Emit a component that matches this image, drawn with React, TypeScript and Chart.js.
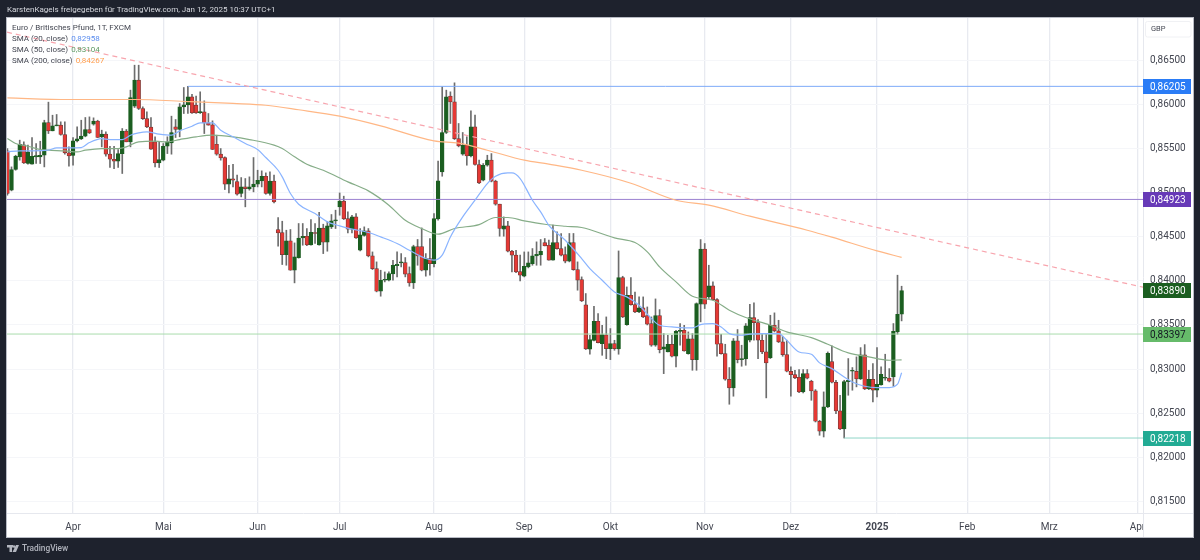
import { useEffect, useRef } from "react";
import { Chart, registerables } from "chart.js";

Chart.register(...registerables);

const candleOpen = [
  0.85461, 0.85015, 0.85249, 0.85393, 0.85529, 0.85317, 0.85309, 0.85393, 0.85393, 0.85411,
  0.85782, 0.85687, 0.85744, 0.85752, 0.85646, 0.85438, 0.85408, 0.85574, 0.85597, 0.85627,
  0.85703, 0.85763, 0.85797, 0.8562, 0.8565, 0.85423, 0.85366, 0.85344, 0.8543, 0.85684,
  0.85563, 0.85967, 0.86262, 0.85941, 0.85827, 0.85729, 0.85563, 0.85325, 0.85355, 0.85513,
  0.85551, 0.85733, 0.85703, 0.8596, 0.85982, 0.86073, 0.85979, 0.85895, 0.85903, 0.85778,
  0.85755, 0.85536, 0.85423, 0.85385, 0.85083, 0.85143, 0.85113, 0.84977, 0.85052, 0.85029,
  0.85052, 0.85083, 0.8512, 0.85173, 0.84977, 0.85117, 0.84569, 0.84535, 0.84285, 0.8444,
  0.84107, 0.84251, 0.84475, 0.84493, 0.84395, 0.84535, 0.84395, 0.84584, 0.84425, 0.84599,
  0.84667, 0.84826, 0.8489, 0.84693, 0.84573, 0.84712, 0.84334, 0.84501, 0.84554, 0.8427,
  0.84126, 0.83869, 0.83994, 0.83994, 0.84066, 0.8416, 0.84191, 0.84194, 0.84069, 0.83964,
  0.84376, 0.84376, 0.84107, 0.8424, 0.84183, 0.8469, 0.85222, 0.85669, 0.86081, 0.86016,
  0.856, 0.85423, 0.85525, 0.85404, 0.85733, 0.85306, 0.85128, 0.85298, 0.85355, 0.85117,
  0.84856, 0.84573, 0.8461, 0.84323, 0.84278, 0.84092, 0.8404, 0.84145, 0.84183, 0.8427,
  0.84281, 0.84421, 0.84391, 0.84221, 0.84421, 0.84353, 0.84285, 0.8421, 0.84421, 0.84115,
  0.84001, 0.83714, 0.83211, 0.83313, 0.83529, 0.83276, 0.83374, 0.83219, 0.83276, 0.83215,
  0.84024, 0.83491, 0.83824, 0.83718, 0.83635, 0.8368, 0.83593, 0.83502, 0.83257, 0.83593,
  0.83211, 0.83181, 0.83268, 0.83132, 0.83415, 0.83427, 0.83162, 0.83329, 0.83094, 0.83722,
  0.84346, 0.83805, 0.8393, 0.83775, 0.83276, 0.83162, 0.82871, 0.82773, 0.83306, 0.83094,
  0.83102, 0.83314, 0.83571, 0.83514, 0.83314, 0.83181, 0.83117, 0.83484, 0.83419, 0.83295,
  0.83151, 0.82962, 0.82924, 0.82894, 0.82728, 0.82936, 0.82849, 0.82739, 0.82395, 0.82282,
  0.82558, 0.83072, 0.82837, 0.82512, 0.82308, 0.82845, 0.82962, 0.82962, 0.82875, 0.83147,
  0.82762, 0.82871, 0.82747, 0.82807, 0.82883, 0.82883, 0.82898, 0.83408, 0.83608,
];

const candleHigh = [
  0.85487, 0.85279, 0.85411, 0.85582, 0.85563, 0.85525, 0.85612, 0.85544, 0.8557, 0.85808,
  0.86013, 0.85865, 0.85873, 0.8579, 0.8579, 0.85506, 0.85612, 0.85733, 0.85808, 0.85839,
  0.85846, 0.85835, 0.85808, 0.85695, 0.85676, 0.85513, 0.85513, 0.85476, 0.85714, 0.85703,
  0.86149, 0.86432, 0.86432, 0.8596, 0.85903, 0.85839, 0.8562, 0.85563, 0.85544, 0.8562,
  0.85854, 0.85816, 0.85997, 0.86179, 0.86192, 0.86103, 0.86081, 0.8613, 0.86028, 0.85884,
  0.85801, 0.85638, 0.85487, 0.85393, 0.85298, 0.85309, 0.85185, 0.85158, 0.85147, 0.85166,
  0.85385, 0.85241, 0.85234, 0.85211, 0.85222, 0.85185, 0.84705, 0.84663, 0.84561, 0.84569,
  0.84417, 0.84637, 0.84637, 0.8458, 0.84682, 0.84637, 0.84765, 0.84629, 0.84656, 0.84739,
  0.84788, 0.84984, 0.84947, 0.84769, 0.84731, 0.8475, 0.8458, 0.84599, 0.8458, 0.84315,
  0.84202, 0.84107, 0.84088, 0.84088, 0.84221, 0.84315, 0.84296, 0.84251, 0.84145, 0.84391,
  0.84456, 0.84587, 0.84296, 0.84467, 0.8475, 0.85344, 0.86186, 0.86149, 0.8613, 0.86232,
  0.85771, 0.85669, 0.8562, 0.85914, 0.85865, 0.85355, 0.85317, 0.85411, 0.8543, 0.85128,
  0.84856, 0.84712, 0.84663, 0.84334, 0.84334, 0.84278, 0.84315, 0.84315, 0.84353, 0.84429,
  0.84456, 0.84467, 0.84448, 0.84618, 0.84542, 0.84524, 0.84372, 0.84524, 0.84524, 0.84202,
  0.84032, 0.83843, 0.8337, 0.83699, 0.83616, 0.83483, 0.83578, 0.83446, 0.83313, 0.84326,
  0.84039, 0.83918, 0.84024, 0.83861, 0.83805, 0.83805, 0.83691, 0.83578, 0.83782, 0.83661,
  0.83389, 0.8337, 0.8337, 0.83427, 0.83502, 0.83483, 0.83408, 0.83389, 0.83737, 0.84455,
  0.8441, 0.84164, 0.83975, 0.83786, 0.83382, 0.83268, 0.83004, 0.83333, 0.83435, 0.83257,
  0.83503, 0.83722, 0.83737, 0.83548, 0.83382, 0.83389, 0.83597, 0.83624, 0.8354, 0.83359,
  0.83314, 0.83011, 0.82973, 0.82981, 0.82981, 0.82981, 0.8286, 0.82754, 0.82406, 0.82728,
  0.83181, 0.83249, 0.8286, 0.8269, 0.8286, 0.83106, 0.83004, 0.83125, 0.8323, 0.83264,
  0.82973, 0.83049, 0.8323, 0.83011, 0.83155, 0.82992, 0.83503, 0.84051, 0.83926,
];

const candleLow = [
  0.84958, 0.85007, 0.85241, 0.85355, 0.85317, 0.85309, 0.85309, 0.85317, 0.85317, 0.85279,
  0.85657, 0.85687, 0.85744, 0.85638, 0.85423, 0.85287, 0.85298, 0.85563, 0.85589, 0.8562,
  0.85657, 0.85752, 0.85612, 0.85506, 0.854, 0.85272, 0.8526, 0.85272, 0.85204, 0.85563,
  0.85506, 0.85952, 0.85929, 0.85816, 0.85725, 0.85476, 0.85279, 0.85272, 0.85347, 0.8543,
  0.85423, 0.85612, 0.8562, 0.85884, 0.85884, 0.85884, 0.85884, 0.85884, 0.85657, 0.85752,
  0.85476, 0.85411, 0.85355, 0.85022, 0.84984, 0.85052, 0.84958, 0.84939, 0.84826, 0.85015,
  0.84996, 0.85052, 0.85052, 0.84969, 0.84958, 0.84871, 0.8438, 0.84172, 0.84164, 0.84107,
  0.83964, 0.84244, 0.84391, 0.84387, 0.84391, 0.8441, 0.84391, 0.84296, 0.84323, 0.8458,
  0.8458, 0.84731, 0.84682, 0.84531, 0.84531, 0.84467, 0.84327, 0.84493, 0.84259, 0.84115,
  0.83862, 0.83813, 0.83975, 0.83986, 0.83994, 0.84032, 0.84145, 0.84032, 0.83926, 0.839,
  0.84164, 0.841, 0.8404, 0.84051, 0.84145, 0.84674, 0.85173, 0.85657, 0.85771, 0.85589,
  0.85506, 0.85411, 0.85298, 0.85393, 0.85298, 0.8509, 0.8512, 0.85287, 0.85109, 0.84845,
  0.84493, 0.84493, 0.84315, 0.84088, 0.84081, 0.83986, 0.84032, 0.84134, 0.84164, 0.84164,
  0.84164, 0.84383, 0.84221, 0.84221, 0.84346, 0.8427, 0.84191, 0.84202, 0.84107, 0.83881,
  0.83752, 0.83208, 0.83155, 0.83306, 0.83283, 0.83143, 0.83105, 0.83094, 0.832, 0.83155,
  0.8357, 0.83483, 0.8371, 0.83627, 0.83627, 0.8357, 0.83487, 0.83245, 0.83245, 0.8317,
  0.82935, 0.83181, 0.83124, 0.83011, 0.83257, 0.83189, 0.83155, 0.82973, 0.82973, 0.83522,
  0.83673, 0.83786, 0.83767, 0.83132, 0.83155, 0.8286, 0.82588, 0.82679, 0.83057, 0.83019,
  0.8303, 0.83295, 0.83314, 0.83106, 0.83162, 0.8266, 0.83106, 0.83408, 0.83287, 0.83132,
  0.82955, 0.82679, 0.82879, 0.8272, 0.82716, 0.82875, 0.82633, 0.82387, 0.82236, 0.82217,
  0.8255, 0.8283, 0.82482, 0.82301, 0.82205, 0.8269, 0.82747, 0.82785, 0.82868, 0.82754,
  0.82754, 0.82614, 0.82671, 0.82803, 0.8286, 0.82841, 0.82792, 0.83382, 0.83533,
];

const candleClose = [
  0.84977, 0.85249, 0.854, 0.85536, 0.85325, 0.85449, 0.854, 0.85408, 0.85411, 0.85782,
  0.85687, 0.85744, 0.85752, 0.85646, 0.85438, 0.85404, 0.85574, 0.85597, 0.85627, 0.85703,
  0.85665, 0.85797, 0.85612, 0.8565, 0.85423, 0.85366, 0.85344, 0.8543, 0.85684, 0.85563,
  0.86065, 0.86262, 0.85941, 0.85827, 0.85733, 0.8548, 0.85325, 0.85362, 0.85513, 0.85563,
  0.85669, 0.85703, 0.8596, 0.85982, 0.86073, 0.85892, 0.85892, 0.85907, 0.85778, 0.85752,
  0.85476, 0.85423, 0.85381, 0.85083, 0.85143, 0.85128, 0.84969, 0.85052, 0.85033, 0.85052,
  0.85083, 0.85128, 0.85173, 0.84977, 0.85117, 0.84882, 0.84531, 0.84285, 0.8444, 0.84107,
  0.84259, 0.84471, 0.84493, 0.84395, 0.84538, 0.84524, 0.84584, 0.84425, 0.8461, 0.84667,
  0.84674, 0.8489, 0.8469, 0.84573, 0.84712, 0.84475, 0.84508, 0.84554, 0.8427, 0.84126,
  0.83869, 0.83994, 0.84002, 0.84069, 0.84164, 0.84175, 0.84198, 0.84062, 0.83964, 0.84376,
  0.8427, 0.84107, 0.8424, 0.84183, 0.84693, 0.8512, 0.85669, 0.86073, 0.86016, 0.856,
  0.85517, 0.85525, 0.85404, 0.85733, 0.85306, 0.85098, 0.85298, 0.85355, 0.85117, 0.84856,
  0.8458, 0.8461, 0.84323, 0.84278, 0.84088, 0.84051, 0.84153, 0.84191, 0.8427, 0.84289,
  0.84323, 0.84383, 0.84221, 0.84421, 0.84353, 0.84278, 0.8421, 0.84421, 0.84115, 0.83994,
  0.83759, 0.83215, 0.83321, 0.83529, 0.83287, 0.83378, 0.83219, 0.83276, 0.83219, 0.84024,
  0.83578, 0.83824, 0.83718, 0.83635, 0.8368, 0.83578, 0.83495, 0.83257, 0.83593, 0.83208,
  0.83238, 0.83268, 0.83132, 0.83415, 0.83427, 0.83192, 0.83329, 0.83094, 0.83729, 0.84346,
  0.83722, 0.8393, 0.83775, 0.83268, 0.83162, 0.82871, 0.82773, 0.83306, 0.83094, 0.83106,
  0.83476, 0.83571, 0.83514, 0.83314, 0.83181, 0.83057, 0.83484, 0.83419, 0.83295, 0.83151,
  0.82962, 0.82924, 0.82886, 0.82728, 0.82936, 0.82883, 0.82739, 0.82395, 0.82282, 0.82558,
  0.83166, 0.82837, 0.82512, 0.82308, 0.82845, 0.8286, 0.8297, 0.82875, 0.83147, 0.82762,
  0.82871, 0.82747, 0.82815, 0.82928, 0.8289, 0.82849, 0.83416, 0.83608, 0.83877,
];

const sma20Index = [
  1, 4, 7, 11, 13, 16, 19, 21, 24, 26, 29, 31, 33, 35, 38, 41, 43, 46, 48, 51, 53, 56, 59, 62, 64,
  67, 68, 70, 72, 76, 79, 82, 85, 89, 92, 96, 99, 103, 105, 107, 109, 112, 115, 118, 120, 123, 124,
  126, 129, 131, 133, 137, 141, 143, 146, 149, 152, 155, 158, 160, 163, 168, 170, 173, 175, 177,
  180, 182, 185, 189, 191, 194, 197, 199, 202, 205, 207, 210, 213, 216, 218, 219,
];
const sma20Values = [
  0.85449, 0.85461, 0.85461, 0.85468, 0.85495, 0.85495, 0.85498, 0.85555, 0.856, 0.85589, 0.85589,
  0.85638, 0.85665, 0.85676, 0.8565, 0.85638, 0.85687, 0.8574, 0.85778, 0.85778, 0.85695, 0.8562,
  0.85544, 0.85476, 0.85385, 0.85241, 0.85166, 0.84977, 0.84856, 0.8475, 0.84656, 0.8461, 0.84573,
  0.84535, 0.84485, 0.8441, 0.84334, 0.8424, 0.84221, 0.84278, 0.84485, 0.84712, 0.84901, 0.8509,
  0.85173, 0.85211, 0.85211, 0.85147, 0.84901, 0.84769, 0.84617, 0.84447, 0.84239, 0.84126, 0.83994,
  0.83861, 0.83805, 0.8371, 0.83559, 0.83483, 0.83465, 0.83453, 0.83491, 0.83503, 0.83465, 0.83389,
  0.8337, 0.83382, 0.83389, 0.83389, 0.83314, 0.83181, 0.83155, 0.83057, 0.82992, 0.82898, 0.82841,
  0.82792, 0.82777, 0.82777, 0.82815, 0.82945,
];

const sma50Index = [
  1, 3, 6, 9, 11, 15, 18, 20, 24, 28, 30, 33, 37, 40, 43, 47, 51, 56, 60, 66, 68, 71, 74, 78, 84,
  89, 94, 98, 102, 106, 110, 116, 120, 123, 127, 132, 137, 141, 149, 154, 157, 160, 164, 168, 173,
  177, 181, 187, 191, 197, 201, 206, 211, 216, 219,
];
const sma50Values = [
  0.856, 0.85544, 0.85513, 0.85476, 0.85468, 0.85461, 0.85449, 0.85468, 0.85487, 0.85487, 0.85506,
  0.85563, 0.8557, 0.85563, 0.85589, 0.8562, 0.85638, 0.8562, 0.85589, 0.85525, 0.85487, 0.85393,
  0.85309, 0.85241, 0.85109, 0.85007, 0.84845, 0.84674, 0.8458, 0.84516, 0.8458, 0.84625, 0.84705,
  0.84705, 0.84667, 0.84629, 0.84606, 0.84592, 0.84474, 0.84421, 0.84315, 0.84145, 0.83975, 0.83813,
  0.83767, 0.83654, 0.83571, 0.83484, 0.83408, 0.83344, 0.83268, 0.8317, 0.83125, 0.83087, 0.83091,
];

const sma200Index = [
  1, 16, 32, 45, 56, 64, 72, 82, 92, 105, 111, 118, 127, 133, 141, 153, 164, 172, 182, 196, 202, 213,
  219,
];
const sma200Values = [
  0.86061, 0.86043, 0.86043, 0.8602, 0.85998, 0.85978, 0.85927, 0.85854, 0.85744, 0.85574, 0.85548,
  0.85468, 0.85355, 0.8531, 0.85241, 0.85094, 0.84901, 0.84845, 0.8472, 0.84561, 0.84482, 0.84326,
  0.84254,
];

const trendIndex = [0.9, 277.85];
const trendValues = [0.86806, 0.83915];

// the readings above were taken against a grid placed slightly too low
const READ_BIAS = 0.00013;

const levelBlue = 0.86205;
const levelPurple = 0.84923;
const levelGreen = 0.83397;
const levelTeal = 0.82218;
const lastClose = 0.8389;

const monthIndex = [17, 39, 62, 82, 105, 127, 148, 171, 192, 213, 235, 255, 276.5];
const monthLabels = ["Apr", "Mai", "Jun", "Jul", "Aug", "Sep", "Okt", "Nov", "Dez", "2025", "Feb", "Mrz", "Apr"];
const priceTicks = [0.815, 0.82, 0.825, 0.83, 0.835, 0.84, 0.845, 0.85, 0.855, 0.86, 0.865];

const priceLabels = [
  { value: levelBlue, bg: "#2a7cf6", fg: "#ffffff" },
  { value: levelPurple, bg: "#673ab7", fg: "#ffffff" },
  { value: lastClose, bg: "#1b5e20", fg: "#ffffff" },
  { value: levelGreen, bg: "#66bb6a", fg: "#131722" },
  { value: levelTeal, bg: "#22ab94", fg: "#ffffff" },
];

const legendRows = [
  { text: "SMA (20, close)", value: "0,82958", color: "#5b8def" },
  { text: "SMA (50, close)", value: "0,83104", color: "#5f9a63" },
  { text: "SMA (200, close)", value: "0,84267", color: "#ff9d4d" },
];

const UP = "#1b5e20";
const DOWN = "#e53935";
const FONT = "Roboto, sans-serif";
const fmt = (v: number) => v.toFixed(5).replace(".", ",");
const read = (v: number) => v + READ_BIAS;

const pointsOf = (xs: number[], ys: number[]) => xs.map((x, i) => ({ x, y: ys[i] }));
const lineSet = (data: { x: number; y: number }[], color: string, extra = {}) => ({
  type: "line" as const,
  data,
  borderColor: color,
  borderWidth: 1.2,
  pointRadius: 0,
  cubicInterpolationMode: "monotone",
  order: 1,
  ...extra,
});
const levelSet = (start: number, value: number, color: string) =>
  lineSet(pointsOf([start, trendIndex[1]], [value, value]), color, { cubicInterpolationMode: "default", borderWidth: 1 });

// page background, white panel and the texts around the plot
const frame = {
  id: "frame",
  beforeDraw(chart: Chart) {
    const { ctx } = chart;
    ctx.save();
    ctx.fillStyle = "#1e222d";
    ctx.fillRect(0, 0, 1200, 560);
    ctx.fillStyle = "#ffffff";
    ctx.fillRect(7, 18, 1186, 519);
    ctx.strokeStyle = "#b8bbc4";
    ctx.strokeRect(6.5, 17.5, 1187, 520);
    ctx.fillStyle = "#d6d8de";
    ctx.font = `8px ${FONT}`;
    ctx.textBaseline = "middle";
    ctx.fillText("KarstenKagels freigegeben für TradingView.com, Jan 12, 2025 10:37 UTC+1", 7, 10);
    ctx.restore();
  },
  afterDraw(chart: Chart) {
    const { ctx, chartArea: a, scales } = chart;
    ctx.save();
    // axis separators
    ctx.strokeStyle = "#e6e8ee";
    ctx.lineWidth = 1;
    ctx.beginPath();
    ctx.moveTo(7, a.bottom + 0.5);
    ctx.lineTo(1193, a.bottom + 0.5);
    ctx.moveTo(a.right + 0.5, 18);
    ctx.lineTo(a.right + 0.5, 537);
    ctx.stroke();
    ctx.fillStyle = "#ffffff";
    ctx.fillRect(a.right + 1, a.bottom + 1, 49, 23);

    // legend
    ctx.textBaseline = "middle";
    ctx.font = `8px ${FONT}`;
    ctx.fillStyle = "#434651";
    ctx.fillText("Euro / Britisches Pfund, 1T, FXCM", 12, 27.5);
    legendRows.forEach((row, i) => {
      const y = 38.5 + i * 11;
      ctx.fillStyle = "#434651";
      ctx.fillText(row.text, 12, y);
      ctx.fillStyle = row.color;
      ctx.fillText(row.value, 12 + ctx.measureText(row.text).width + 3, y);
    });

    // GBP box
    ctx.strokeStyle = "#f0f1f4";
    ctx.beginPath();
    ctx.roundRect(1145.5, 21.5, 45.5, 15.5, 2);
    ctx.stroke();
    ctx.fillStyle = "#434651";
    ctx.font = `7.5px ${FONT}`;
    ctx.fillText("GBP", 1151, 29.5);

    // price labels
    ctx.font = `10px ${FONT}`;
    priceLabels.forEach((l) => {
      const y = Math.floor(scales.y.getPixelForValue(l.value));
      ctx.fillStyle = l.bg;
      ctx.fillRect(a.right, y - 7, 48, 15);
      ctx.fillStyle = l.fg;
      ctx.fillText(fmt(l.value), 1150, y + 1);
    });

    // footer
    ctx.fillStyle = "#b2b5be";
    ctx.fillRect(7, 545, 6, 2.5);
    ctx.fillRect(9.5, 545, 2.5, 7);
    ctx.beginPath();
    ctx.arc(14, 546.5, 1.2, 0, Math.PI * 2);
    ctx.moveTo(16, 545);
    ctx.lineTo(19, 545);
    ctx.lineTo(16, 552);
    ctx.lineTo(12.5, 552);
    ctx.fill();
    ctx.font = `500 8.3px ${FONT}`;
    ctx.fillText("TradingView", 22, 549);
    ctx.restore();
  },
};

export default function App() {
  const canvasRef = useRef<HTMLCanvasElement | null>(null);

  useEffect(() => {
    if (!canvasRef.current) return;
    const ctx = canvasRef.current.getContext("2d");
    if (!ctx) return;

    const index = candleOpen.map((_, i) => i + 1);
    const candleColors = candleOpen.map((o, i) => (candleClose[i] >= o ? UP : DOWN));
    const bodyEdges = candleOpen.map((o, i) => (candleClose[i] >= o ? UP : "#6e3a37"));

    const chart = new Chart(ctx, {
      type: "bar",
      data: {
        datasets: [
          lineSet(pointsOf(sma20Index, sma20Values.map(read)), "#8ab4ff"),
          lineSet(pointsOf(sma50Index, sma50Values.map(read)), "#86ad88"),
          lineSet(pointsOf(sma200Index, sma200Values.map(read)), "#ffb785"),
          lineSet(pointsOf(trendIndex, trendValues.map(read)), "#f8a5ae", {
            borderDash: [5, 4],
            cubicInterpolationMode: "default",
          }),
          levelSet(45, levelBlue, "#7eaaf8"),
          levelSet(trendIndex[0], levelPurple, "#9a80d0"),
          levelSet(trendIndex[0], levelGreen, "#aadcac"),
          levelSet(205, levelTeal, "#8fd5c8"),
          {
            type: "bar" as const,
            data: index.map((x, i) => ({ x, y: [read(candleOpen[i]), read(candleClose[i])] })),
            backgroundColor: candleColors,
            borderColor: bodyEdges,
            borderWidth: 0.7,
            borderSkipped: false,
            barThickness: 3.8,
            minBarLength: 1,
            grouped: false,
            order: 2,
          },
          {
            type: "bar" as const,
            data: index.map((x, i) => ({ x, y: [read(candleLow[i]), read(candleHigh[i])] })),
            backgroundColor: "#6d6d6d",
            barThickness: 1,
            grouped: false,
            order: 3,
          },
        ] as any,
      },
      plugins: [frame],
      options: {
        responsive: false,
        animation: false,
        events: [],
        layout: { padding: { left: 7, top: 18, right: 7, bottom: 23 }, autoPadding: false },
        plugins: { legend: { display: false }, title: { display: false }, tooltip: { enabled: false } },
        scales: {
          x: {
            type: "linear",
            offset: false,
            min: trendIndex[0],
            max: trendIndex[1],
            afterFit(scale: any) {
              scale.height = 24;
            },
            afterBuildTicks(scale: any) {
              scale.ticks = monthIndex.map((value) => ({ value }));
            },
            grid: { offset: false, color: "#e8eaf0", lineWidth: 1.3, drawTicks: false },
            border: { display: false },
            ticks: {
              autoSkip: false,
              maxRotation: 0,
              padding: 8,
              color: "#434651",
              font: (c: any) => ({
                family: FONT,
                size: 10,
                weight: monthLabels[monthIndex.indexOf(c.tick?.value)] === "2025" ? "bold" : "normal",
              }),
              callback: (value: any) => monthLabels[monthIndex.indexOf(value)],
            },
          },
          y: {
            type: "linear",
            position: "right",
            min: 0.81368,
            max: 0.8698,
            afterFit(scale: any) {
              scale.width = 50;
            },
            afterBuildTicks(scale: any) {
              scale.ticks = priceTicks.map((value) => ({ value }));
            },
            grid: { color: "#f5f6f9", lineWidth: 1, drawTicks: false },
            border: { display: false },
            ticks: {
              autoSkip: false,
              padding: 7,
              color: "#434651",
              font: { family: FONT, size: 10 },
              callback: (value: any) => fmt(value),
            },
          },
        },
      },
    });

    return () => {
      chart.destroy();
    };
  }, []);

  return (
    <div style={{ position: "absolute", left: 0, top: 0, width: 1200, height: 560 }}>
      <canvas ref={canvasRef} width={1200} height={560} style={{ display: "block" }}></canvas>
    </div>
  );
}
